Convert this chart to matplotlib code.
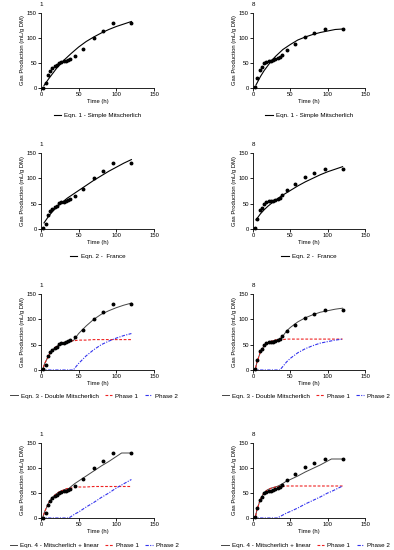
import matplotlib
matplotlib.use("Agg")
import matplotlib.pyplot as plt

plt.rcParams['font.family'] = ['Liberation Sans', 'DejaVu Sans']

# measured time points (h)
t_obs = [3, 6, 9, 12, 15, 18, 21, 24, 27, 30, 33, 36, 39, 45, 56, 70, 82, 96, 120]
# gas production, sample 1 and sample 8 (mL/g DM)
gas_1 = [1, 10, 27, 35, 40, 44, 46, 51, 53, 54, 55, 57, 59, 65, 79, 101, 114, 130, 130]
gas_8 = [2, 20, 37, 42, 50, 53, 55, 55, 56, 58, 60, 62, 67, 77, 88, 102, 110, 118, 118]

# Eqn. 1 / Eqn. 2 fitted curves
t_fit = [4, 10, 15, 20, 25, 30, 35, 40, 50, 60, 70, 80, 90, 100, 110, 120]
eq1_1 = [5, 18, 28, 38, 47, 55, 62, 69, 82, 93, 102, 110, 117, 123, 128, 133]
eq1_8 = [6, 23, 35, 45, 55, 63, 70, 77, 87, 96, 102, 107, 111, 114, 117, 118]
eq2_1 = [12, 25, 34, 42, 49, 55, 61, 66, 76, 86, 96, 105, 114, 122, 130, 137]
eq2_8 = [18, 30, 38, 45, 51, 57, 62, 67, 76, 85, 93, 100, 107, 113, 118, 123]

# Eqn. 3 - double Mitscherlich
t3_1 = [0, 2, 5, 10, 15, 20, 25, 30, 35, 40, 43, 45, 50, 60, 70, 80, 90, 100, 110, 120]
eq3_1 = [0, 0, 13, 28, 39, 46, 50, 54, 56, 57, 58, 62, 72, 87, 100, 110, 117, 123, 128, 132]
eq3_1_p1 = [0, 0, 13, 28, 39, 46, 50, 54, 56, 57, 58, 58, 59, 59, 60, 60, 60, 60, 60, 60]
eq3_1_p2 = [0, 0, 0, 0, 0, 0, 0, 0, 0, 0, 0, 4, 13, 28, 40, 50, 57, 63, 68, 72]
t3_8 = [0, 3, 5, 10, 15, 20, 25, 30, 36, 40, 45, 50, 60, 70, 80, 90, 100, 110, 120]
eq3_8 = [0, 0, 14, 36, 48, 54, 57, 59, 60, 67, 77, 84, 95, 103, 109, 114, 117, 120, 122]
eq3_8_p1 = [0, 0, 14, 36, 48, 54, 57, 59, 60, 60, 61, 61, 61, 61, 61, 61, 61, 61, 61]
eq3_8_p2 = [0, 0, 0, 0, 0, 0, 0, 0, 0, 7, 16, 23, 34, 42, 48, 53, 56, 59, 61]

# Eqn. 4 - Mitscherlich + linear
t4_1 = [0, 2, 5, 10, 15, 20, 25, 30, 35, 37, 40, 45, 50, 60, 70, 80, 90, 100, 107, 120]
eq4_1 = [0, 0, 13, 30, 41, 48, 53, 56, 59, 59, 63, 69, 74, 84, 94, 104, 113, 123, 130, 130]
eq4_1_p1 = [0, 0, 13, 30, 41, 48, 53, 56, 59, 59, 60, 61, 62, 62, 63, 63, 63, 63, 63, 63]
eq4_1_p2 = [0, 0, 0, 0, 0, 0, 0, 0, 0, 0, 3, 8, 12, 22, 31, 41, 50, 60, 66, 77]
t4_8 = [0, 3, 5, 10, 15, 20, 25, 30, 32, 35, 40, 45, 50, 60, 70, 80, 90, 100, 105, 120]
eq4_8 = [0, 0, 15, 38, 51, 57, 60, 62, 63, 65, 69, 74, 77, 84, 92, 99, 106, 114, 118, 118]
eq4_8_p1 = [0, 0, 15, 38, 51, 57, 60, 62, 63, 63, 63, 64, 64, 64, 64, 64, 64, 64, 64, 64]
eq4_8_p2 = [0, 0, 0, 0, 0, 0, 0, 0, 0, 2, 6, 10, 13, 20, 28, 35, 42, 50, 53, 64]

fig = plt.figure(figsize=(3.94, 5.5), dpi=100)

lefts = [41 / 394, 253 / 394]
widths = [113 / 394, 112 / 394]
bottoms = [1 - 88 / 550, 1 - 229 / 550, 1 - 370 / 550, 1 - 518 / 550]
heights = [75 / 550, 76 / 550, 76 / 550, 75 / 550]
leg_y = [-0.37, -0.36, -0.34, -0.36]
leg_x = [0.5, 0.5, 0.47, 0.47]

fs = 4.2
red = '#ee2222'
blue = '#3333ee'


def style(ax, title, row):
    ax.set_xlim(0, 150)
    ax.set_ylim(0, 150)
    ax.set_xticks([0, 50, 100, 150])
    ax.set_yticks([0, 50, 100, 150])
    ax.spines['top'].set_visible(False)
    ax.spines['right'].set_visible(False)
    for s in ['left', 'bottom']:
        ax.spines[s].set_linewidth(0.6)
    ax.tick_params(labelsize=fs, length=2, width=0.6, pad=1)
    ax.set_xlabel('Time (h)', fontsize=fs, labelpad=1.5)
    ax.set_ylabel('Gas Production (mL/g DM)', fontsize=fs, labelpad=1.5)
    ax.text(0, 1.08, title, transform=ax.transAxes, ha='center', va='bottom', fontsize=4.5)
    ax.legend(loc='center', bbox_to_anchor=(leg_x[row], leg_y[row]), ncol=3, frameon=False,
              fontsize=4.5, handlelength=1.2, handletextpad=0.5, columnspacing=1.0)


panels = [
    ('Eqn. 1 - Simple Mitscherlich', t_fit, eq1_1, eq1_8),
    ('Eqn. 2 -  France', t_fit, eq2_1, eq2_8),
]

for row, (name, tf, y1, y8) in enumerate(panels):
    for col, (obs, fit, title) in enumerate([(gas_1, y1, '1'), (gas_8, y8, '8')]):
        ax = fig.add_axes([lefts[col], bottoms[row], widths[col], heights[row]])
        ax.plot(tf, fit, color='black', lw=0.8, label=name)
        ax.plot(t_obs, obs, 'o', color='black', ms=1.8, clip_on=False)
        style(ax, title, row)

phase_panels = [
    ('Eqn. 3 - Double Mitscherlich',
     [(t3_1, eq3_1, eq3_1_p1, eq3_1_p2), (t3_8, eq3_8, eq3_8_p1, eq3_8_p2)]),
    ('Eqn. 4 - Mitscherlich + linear',
     [(t4_1, eq4_1, eq4_1_p1, eq4_1_p2), (t4_8, eq4_8, eq4_8_p1, eq4_8_p2)]),
]

for r, (name, series) in enumerate(phase_panels):
    row = r + 2
    for col, ((tt, main, p1, p2), obs, title) in enumerate(zip(series, [gas_1, gas_8], ['1', '8'])):
        ax = fig.add_axes([lefts[col], bottoms[row], widths[col], heights[row]])
        ax.plot(tt, main, color='#444444', lw=0.7, label=name)
        ax.plot(tt, p1, color=red, lw=0.8, ls=(0, (2.5, 1.5)), label='Phase 1')
        ax.plot(tt, p2, color=blue, lw=0.8, ls=(0, (3, 1.2, 1, 1.2)), label='Phase 2')
        ax.plot(t_obs, obs, 'o', color='black', ms=1.8, clip_on=False)
        style(ax, title, row)

plt.savefig('out.png', dpi=100)
